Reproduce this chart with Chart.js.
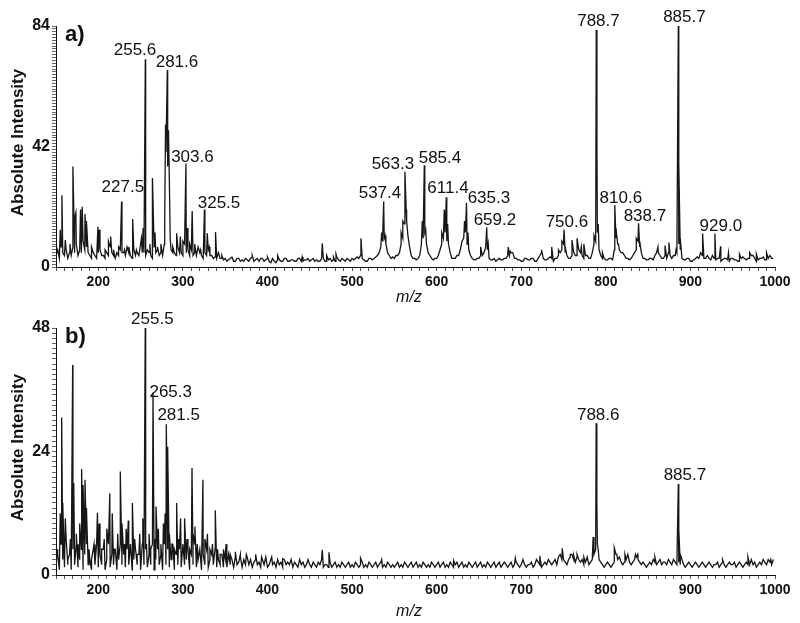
<!DOCTYPE html>
<html>
<head>
<meta charset="utf-8">
<script src="https://cdn.jsdelivr.net/npm/chart.js@4.4.0/dist/chart.umd.min.js"></script>
<style>
  body { margin: 0; background: #fff; width: 800px; height: 623px; position: relative; overflow: hidden; }
  canvas { position: absolute; left: 0; }
  #chartA { top: 0; }
  #chartB { top: 305px; }
</style>
</head>
<body>
<canvas id="chartA" width="800" height="305"></canvas>
<canvas id="chartB" width="800" height="318"></canvas>
<script>
// baseline read every 2 m/z units from 150 to 998
const mzStart = 150;
const mzStep = 2;

// panel a) baseline, one row per 40 m/z
const baseA = [
  4, 6, 3, 7, 5, 4, 6, 3, 5, 4, 7, 5, 8, 4, 6, 5, 9, 6, 7, 5,
  4, 3, 5, 4, 3, 5, 6, 4, 4, 3, 5, 4, 7, 5, 4, 3, 5, 4, 6, 5,
  5, 4, 7, 5, 4, 3, 6, 4, 5, 4, 8, 5, 5, 4, 6, 5, 4, 3, 7, 5,
  6, 4, 5, 4, 8, 40, 35, 30, 6, 5, 5, 4, 7, 5, 5, 4, 8, 5, 6, 4,
  6, 4, 5, 4, 7, 5, 4, 3, 5, 4, 6, 4, 4, 3, 3.5, 3, 5, 3, 3, 2.5,
  3, 2, 2.5, 3, 3.5, 2, 2, 3, 3, 2, 2.5, 2, 3, 2.5, 2, 3, 3.5, 2, 2.5, 3,
  2, 3, 3, 2, 2.5, 3, 2, 1.5, 3, 2, 1.5, 2.5, 2.5, 2, 2, 3, 3, 2, 2, 2.5,
  2.5, 2, 2, 3, 3, 2, 2, 2.5, 2.5, 3, 2, 2.5, 3, 2, 2.5, 2, 2, 3, 3, 2,
  2, 2.5, 3, 2, 2.5, 2, 3.5, 2.5, 2, 3, 2.5, 2, 3, 2.5, 2, 3, 2.5, 3, 3.5, 3,
  4, 3, 2.5, 2, 2, 3, 3, 2.5, 3, 3.5, 4, 5, 7, 9, 10, 8, 5, 4, 3, 3.5,
  3, 4, 4, 5, 8, 10, 15, 20, 11, 7, 4, 3, 3, 2.5, 3, 4, 8, 10, 12, 8,
  5, 4, 3, 2.5, 3, 3, 4, 6, 8, 10, 12, 9, 8, 5, 3, 3, 3, 4, 4, 6,
  9, 10, 12, 8, 6, 4, 3, 2.5, 2.5, 3, 3, 4, 4, 5, 7, 6, 3, 2.5, 2.5, 3,
  2, 2.5, 3, 2.5, 2.5, 3, 3, 4, 4, 5, 5, 3, 3, 2.5, 2.5, 2, 2, 3, 3, 2.5,
  2.5, 3, 3, 2, 2, 3, 4, 5, 3, 2.5, 2.5, 3, 3.5, 3, 2, 3, 3, 4, 5, 6,
  8, 5, 4, 3, 3, 4, 5, 4, 4, 6, 5, 4, 3, 4, 4, 3, 3, 5, 8, 9,
  12, 6, 4, 3, 3, 2.5, 2.5, 3, 3, 2.5, 6, 10, 8, 6, 5, 5, 4, 3, 3, 2.5,
  3, 4, 5, 6, 9, 7, 5, 3, 3, 2.5, 2.5, 3, 3, 2.5, 4, 5, 5, 4, 3, 3,
  4, 3, 5, 4, 3, 4, 4, 5, 8, 6, 3, 2.5, 2.5, 3, 3, 2, 2, 2.5, 3, 3.5,
  3, 5, 4, 3, 3, 4, 3, 2.5, 4, 3, 2.5, 3, 3, 2, 2.5, 3, 3, 2.5, 2, 3,
  3, 2.5, 2.5, 2, 2, 3, 3.5, 3, 2.5, 3, 3, 4, 4, 3, 2, 2.5, 3, 3, 3.5, 2.5,
  2.5, 3, 4, 3, 3
];

// panel a) peaks
const peakMzA = [
  155, 157, 161, 166.5, 170, 172, 173.5, 179, 181, 184.3, 186, 192, 199.6, 201,
  208, 212, 214.6, 218, 224, 227.5, 231, 236, 240.6, 245, 251, 253, 255.6, 258,
  261, 264, 267, 270, 274, 278.5, 279.5, 281.6, 283, 285, 288, 292.6, 297, 300,
  303.6, 305, 308, 311, 314, 318, 321, 325.5, 328.8, 331, 338.6, 342, 346,
  382, 400, 412, 441, 464.8, 470, 478, 481, 510.5,
  535, 537.4, 539, 558, 560, 562.5, 564.5, 583, 585.4, 587, 606, 609, 611.4, 613,
  633, 635.3, 637, 652, 659.2, 661, 684.6, 687, 724, 736, 744, 748, 750.6, 752,
  760, 766, 771, 774, 786, 788.7, 789.5, 791, 796, 810.6, 812, 815, 820, 836,
  838.7, 840, 861.6, 870, 874.6, 883, 885.7, 886.5, 888, 914.4, 929, 935.7,
  945, 958, 970, 978, 990
];
const peakIntA = [
  13, 25, 9.4, 8, 35, 17, 19, 20, 21, 18.5, 16, 7, 14, 13,
  6, 9, 10.6, 6, 7, 22.8, 6, 7, 16.7, 6, 10, 13.6, 72.4, 6,
  8, 31, 12, 7, 8, 15, 49.7, 68.7, 47.7, 10, 7, 11.8, 10.6, 9,
  36.1, 13.6, 8, 19.5, 8, 7, 6, 20, 11.8, 7, 12.2, 5, 4,
  4, 3.5, 4, 3.5, 8.3, 4, 3.5, 4.5, 10,
  12, 22.8, 11, 12, 16, 33.2, 16, 16, 35.5, 13, 12, 20, 24.3, 15,
  16, 22.4, 12, 7, 13.8, 8, 7, 5.5, 6, 7, 6, 9, 13.1, 7,
  9.4, 10, 7, 8, 11, 82.6, 42, 15, 5, 21.6, 13.6, 8, 5, 10,
  15.2, 9, 7, 7.5, 8.5, 6, 84, 36, 10, 11.7, 11.7, 7.2,
  5, 4.5, 5, 4.5, 5
];
const labelTextA = ['227.5', '255.6', '281.6', '303.6', '325.5', '537.4', '563.3', '585.4',
  '611.4', '635.3', '659.2', '750.6', '788.7', '810.6', '838.7', '885.7', '929.0'];
const labelMzA = [229, 243.4, 293, 311.3, 342.7, 533, 548.3, 603.9,
  613.4, 661.8, 668.9, 754, 791.3, 817.8, 846.2, 892.9, 936];
const labelIntA = [26.2, 73.9, 69.7, 36.7, 20.5, 23.9, 34, 36.4,
  25.7, 22.2, 14.6, 14, 84, 22.4, 16, 85.5, 12.7];
const yTicksA = [0, 42, 84];

// panel b) baseline, one row per 40 m/z
const baseB = [
  2, 5, 1, 6, 3, 1.5, 7, 2, 4, 1, 5, 2, 6, 1.5, 3, 5, 1, 4, 6, 2,
  3, 1, 5, 2, 6, 1.5, 4, 2, 5, 1, 3, 6, 1.5, 4, 2, 5, 1, 3, 6, 2,
  4, 1.5, 5, 2, 6, 1, 3, 5, 2, 4, 1, 6, 2, 5, 1.5, 4, 2, 6, 1, 3,
  5, 2, 4, 1, 6, 2, 5, 1.5, 3, 6, 1, 4, 2, 5, 1.5, 6, 2, 3, 5, 1,
  4, 2, 6, 1.5, 3, 5, 1, 4, 2, 5, 1.5, 3, 4, 2, 5, 1.5, 3, 2, 4, 1.5,
  3, 1.5, 4, 2, 3, 1.5, 3.5, 2, 2.5, 4, 1.5, 3, 2, 3.5, 2, 3, 1.5, 2.5, 3, 2,
  2.5, 1.5, 3, 2, 3.5, 1.5, 2, 3, 2, 2.5, 1.5, 3, 2, 2.5, 1.5, 3, 2, 2.5, 2, 3,
  1.5, 2.5, 2, 1.5, 3, 2, 2.5, 1.5, 2, 3, 2, 1.5, 2.5, 2, 1.5, 2.5, 2, 3, 1.5, 2,
  2, 1.5, 2.5, 1.5, 2, 2.5, 1.5, 2, 1.5, 2.5, 2, 1.5, 2, 2.5, 1.5, 2, 1.5, 2.5, 2, 1.5,
  2, 2.5, 1.5, 2, 1.5, 2.5, 2, 1.5, 2, 2.5, 1.5, 2, 2.5, 1.5, 2, 1.5, 2.5, 2, 1.5, 2,
  1.5, 2, 2.5, 1.5, 2, 1.5, 2.5, 2, 1.5, 2, 2.5, 1.5, 2, 2.5, 1.5, 2, 1.5, 2.5, 2, 1.5,
  2, 1.5, 2.5, 2, 1.5, 2, 2.5, 1.5, 2, 2.5, 1.5, 2, 1.5, 2.5, 2, 1.5, 2, 2.5, 1.5, 2,
  2.5, 1.5, 2, 1.5, 2.5, 2, 1.5, 2, 2.5, 1.5, 2, 2.5, 1.5, 2, 1.5, 2.5, 2, 1.5, 2, 2.5,
  1.5, 2, 2.5, 1.5, 2, 2.5, 2, 1.5, 2, 2.5, 1.5, 2, 2.5, 2, 1.5, 2, 3, 2, 1.5, 2,
  2, 2.5, 1.5, 2, 3, 2.5, 2, 1.5, 2, 2.5, 2, 3, 2.5, 2, 2.5, 3, 2, 3.5, 4, 3,
  3, 2.5, 2, 3, 3.5, 4, 3, 2.5, 3.5, 3, 2.5, 3, 2, 2.5, 3.5, 2, 2.5, 3, 4, 5,
  6, 3, 2.5, 2, 1.5, 2, 2.5, 2, 1.5, 2, 2.5, 4, 3, 3.5, 2.5, 2, 2.5, 3, 4, 2.5,
  2, 2.5, 3, 3.5, 3, 2.5, 2, 2.5, 2, 1.5, 2, 2.5, 2, 3, 2.5, 2, 2.5, 3, 2, 2.5,
  2.5, 2, 3, 2.5, 2, 3, 2.5, 2, 2.5, 2, 3, 2, 1.5, 2, 2.5, 2, 1.5, 2, 2.5, 2,
  1.5, 2, 2.5, 2, 1.5, 2, 2.5, 2, 1.5, 2, 2, 2.5, 1.5, 2, 2.5, 2, 1.5, 2, 2.5, 2,
  2, 2.5, 1.5, 2, 2.5, 2, 1.5, 2, 2.5, 2, 2, 3, 2, 2.5, 1.5, 2, 2.5, 2, 3, 2.5,
  2, 3, 2.5, 2, 3
];

// panel b) peaks
const peakMzB = [
  152, 155, 156.7, 158, 161, 164, 167, 169.7, 171, 174, 176, 178, 180.3, 182,
  184.3, 186, 189, 192, 195, 199, 201, 204, 207, 210, 213.6, 216.5, 219, 223,
  226, 228, 231, 233, 235.5, 238, 240.3, 243, 246, 249, 252.6, 255.5, 257, 260,
  262, 264.7, 267, 268.3, 271, 274, 277, 279, 280.4, 282, 284, 287, 290, 292.6,
  295, 297.3, 300, 302, 305, 308, 310.8, 312, 314.2, 317, 320, 323.7, 326, 329,
  332, 335, 338.3, 341, 344, 348, 351, 356, 362, 368, 375, 386, 393, 405, 418,
  464.8, 472.7, 510, 535, 620, 693, 722, 746, 748.5, 758, 762, 766, 774, 785,
  788.6, 789.4, 791, 810, 813, 822.6, 835, 837.6, 858, 885.7, 886.5, 888, 938,
  968, 995
];
const peakIntB = [
  4, 12, 30.6, 14, 11, 3, 7, 40.8, 17.9, 8, 6, 10, 20.6, 17.5,
  18.5, 13, 5, 3, 6, 12.1, 10, 5, 7, 9, 15.9, 12, 5, 8,
  20.1, 10, 6, 9, 10.6, 6, 14, 7, 4, 8, 11, 48, 6, 8,
  5, 35.4, 7, 13.3, 9, 6, 10, 12, 29.3, 24.9, 8, 6, 5, 14,
  7, 11, 6, 11, 7, 5, 20.8, 8, 9.4, 6, 5, 18.5, 7, 8,
  5, 6, 12.6, 5, 4, 5, 6, 4, 4.5, 3.5, 4, 4, 3.5, 3.5, 3.2,
  4.9, 4.4, 3.3, 3, 2.8, 3.3, 3.7, 4, 5.2, 4, 3.8, 4, 3.5, 7.4,
  29.5, 14.2, 5, 5.3, 4, 4, 4, 4, 3.5, 17.7, 9, 4, 3,
  3.5, 3
];
const labelTextB = ['255.5', '265.3', '281.5', '788.6', '885.7'];
const labelMzB = [263.9, 285.6, 295, 791, 893.5];
const labelIntB = [48.8, 34.6, 30.1, 30.1, 18.5];
const yTicksB = [0, 24, 48];

const xTickLabels = [200, 300, 400, 500, 600, 700, 800, 900, 1000];

function buildSpectrum(base, peakMz, peakInt) {
  const pts = base.map((v, i) => ({ x: mzStart + i * mzStep, y: v }));
  peakMz.forEach((m, i) => pts.push({ x: m, y: peakInt[i] }));
  return pts.sort((a, b) => a.x - b.x);
}

const annotate = {
  id: 'annotate',
  afterDraw(chart, args, opts) {
    const { ctx, chartArea } = chart;
    const x = chart.scales.x;
    const y = chart.scales.y;
    ctx.save();
    ctx.fillStyle = '#111';
    ctx.font = '17px "Liberation Sans", Arial, sans-serif';
    ctx.textAlign = 'center';
    ctx.textBaseline = 'alphabetic';
    opts.text.forEach((t, i) => {
      ctx.fillText(t, x.getPixelForValue(opts.mz[i]), y.getPixelForValue(opts.int[i]));
    });
    // panel letter
    ctx.font = 'bold 22px "Liberation Sans", Arial, sans-serif';
    ctx.textAlign = 'left';
    ctx.textBaseline = 'middle';
    ctx.fillText(opts.panel, chartArea.left + 9, chartArea.top + 9);
    // axis titles
    ctx.font = 'italic 16px "Liberation Sans", Arial, sans-serif';
    ctx.textAlign = 'center';
    ctx.fillText('m/z', 409, opts.titleY);
    ctx.translate(18, (chartArea.top + chartArea.bottom) / 2 - 4);
    ctx.rotate(-Math.PI / 2);
    ctx.font = 'bold 17px "Liberation Sans", Arial, sans-serif';
    ctx.fillText('Absolute Intensity', 0, 0, 153);
    ctx.restore();
  }
};

function makeChart(el, data, yMax, yTicks, pad, xHeight, ann) {
  const xFont = { family: '"Liberation Sans", Arial', size: 14, weight: 'bold' };
  const yFont = { family: '"Liberation Sans", Arial', size: 16, weight: 'bold' };
  return new Chart(el, {
    type: 'line',
    data: {
      datasets: [{
        data: data,
        borderColor: '#161616',
        borderWidth: 1.3,
        pointRadius: 0,
        tension: 0,
        fill: false
      }]
    },
    options: {
      responsive: false,
      animation: false,
      events: [],
      layout: { padding: { left: 0, right: 25, top: pad, bottom: 0 } },
      plugins: { legend: { display: false }, tooltip: { enabled: false }, annotate: ann },
      scales: {
        x: {
          type: 'linear',
          min: 150,
          max: 1000,
          ticks: {
            stepSize: 10,
            autoSkip: false,
            maxRotation: 0,
            padding: 3,
            color: '#111',
            font: xFont,
            callback: (v) => (xTickLabels.includes(v) ? String(v) : '')
          },
          grid: { drawOnChartArea: false, tickLength: 4, tickColor: '#555' },
          border: { color: '#111', width: 1 },
          afterFit: (s) => { s.height = xHeight; }
        },
        y: {
          min: 0,
          max: yMax,
          ticks: {
            stepSize: 1,
            autoSkip: false,
            padding: 2,
            color: '#111',
            font: yFont,
            callback: (v) => (yTicks.includes(v) ? String(v) : '')
          },
          grid: { drawOnChartArea: false, tickLength: 4, tickColor: '#666' },
          border: { color: '#111', width: 1 },
          afterFit: (s) => { s.width = 56; }
        }
      }
    },
    plugins: [annotate]
  });
}

makeChart(document.getElementById('chartA'), buildSpectrum(baseA, peakMzA, peakIntA), 84, yTicksA, 26, 38,
  { text: labelTextA, mz: labelMzA, int: labelIntA, panel: 'a)', titleY: 298 });
makeChart(document.getElementById('chartB'), buildSpectrum(baseB, peakMzB, peakIntB), 48, yTicksB, 23, 48,
  { text: labelTextB, mz: labelMzB, int: labelIntB, panel: 'b)', titleY: 307 });
</script>
</body>
</html>
